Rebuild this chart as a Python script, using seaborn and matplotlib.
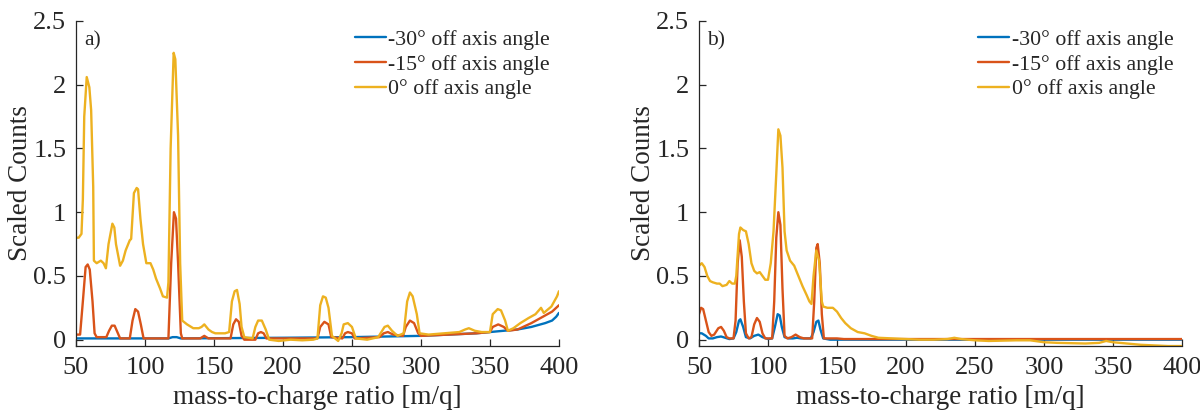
import numpy as np
import pandas as pd
import matplotlib
matplotlib.use("Agg")
import matplotlib.pyplot as plt
import seaborn as sns

# ---------------- data: panel a ----------------
a_mz_0 = [50, 52, 54, 55, 56, 57.8, 59.7, 61, 62.5, 63, 65, 68, 70, 71.7, 73.6, 76.4, 77.8, 79, 82,
          84, 86, 89, 90, 92, 94, 95, 96.7, 98.6, 101, 104, 106, 108, 111, 113, 116, 117, 118.6,
          120.8, 122, 124, 125.5, 127, 130.5, 135, 139, 141, 143, 146, 148.6, 151, 158, 161, 163,
          165, 166.7, 168.6, 170, 172, 178, 180, 182, 184.7, 187.5, 190, 197, 205.5, 214, 222, 225,
          227, 229, 231, 233, 235.5, 240, 242.5, 244, 247, 250, 252.8, 261, 269, 273.6, 276, 279,
          283, 287.5, 290, 292, 294, 297, 299, 305.5, 316.7, 327.8, 332, 334.7, 339, 344, 350, 352,
          355.6, 358, 361, 363, 367, 372, 378, 383, 387, 389, 394.5, 398.6, 400]
a_val_0 = [0.80, 0.80, 0.83, 1.10, 1.75, 2.06, 1.98, 1.80, 1.20, 0.62, 0.60, 0.62, 0.60, 0.56, 0.75,
           0.91, 0.88, 0.75, 0.58, 0.62, 0.70, 0.78, 0.79, 1.15, 1.19, 1.18, 0.95, 0.75, 0.60, 0.60,
           0.55, 0.48, 0.40, 0.34, 0.33, 0.45, 1.50, 2.25, 2.20, 1.60, 0.60, 0.15, 0.12, 0.09,
           0.09, 0.10, 0.12, 0.08, 0.06, 0.05, 0.05, 0.06, 0.30, 0.38, 0.39, 0.28, 0.10, 0.02, 0.01,
           0.10, 0.15, 0.15, 0.08, 0.00, -0.01, 0.00, -0.005, 0.00, 0.01, 0.27, 0.34, 0.33, 0.25,
           0.03, -0.01, 0.05, 0.12, 0.13, 0.10, 0.01, 0.00, 0.02, 0.10, 0.11, 0.07, 0.03, 0.05, 0.30,
           0.37, 0.34, 0.20, 0.05, 0.04, 0.05, 0.06, 0.08, 0.09, 0.07, 0.06, 0.06, 0.20, 0.24, 0.23,
           0.15, 0.07, 0.09, 0.13, 0.17, 0.20, 0.25, 0.21, 0.26, 0.34, 0.38]

a_mz_15 = [50, 53, 55, 57, 58.5, 60, 62, 63.5, 65, 72, 74, 76, 78, 80, 82, 89, 91, 93, 95, 97, 99,
           117, 119, 121, 122.5, 124, 126, 127, 140, 143, 146, 162, 164, 166, 168, 170, 172, 180,
           182, 184, 186, 188, 225, 227, 230, 233, 235, 243, 245, 247, 250, 252, 270, 273, 276,
           280, 287, 289, 292, 295, 298, 300, 320, 340, 350, 352, 356, 360, 363, 370, 380, 390,
           395, 400]
a_val_15 = [0.04, 0.04, 0.30, 0.57, 0.59, 0.55, 0.30, 0.05, 0.02, 0.02, 0.07, 0.11, 0.11, 0.06,
            0.01, 0.01, 0.15, 0.24, 0.22, 0.12, 0.01, 0.01, 0.60, 1.00, 0.95, 0.60, 0.05, 0.01,
            0.01, 0.03, 0.01, 0.01, 0.12, 0.16, 0.14, 0.03, 0.00, 0.00, 0.05, 0.06, 0.05, 0.01,
            0.01, 0.10, 0.14, 0.12, 0.02, 0.01, 0.05, 0.06, 0.05, 0.01, 0.02, 0.05, 0.06, 0.04,
            0.03, 0.10, 0.15, 0.13, 0.05, 0.03, 0.04, 0.05, 0.06, 0.10, 0.12, 0.10, 0.07, 0.08,
            0.13, 0.19, 0.22, 0.27]

a_mz_30 = [50, 100, 117, 120, 123, 126, 200, 250, 300, 320, 340, 350, 360, 370, 380, 390, 395,
           398, 400]
a_val_30 = [0.01, 0.01, 0.01, 0.02, 0.02, 0.01, 0.015, 0.02, 0.03, 0.04, 0.05, 0.06, 0.07, 0.08,
            0.10, 0.13, 0.15, 0.18, 0.21]

# ---------------- data: panel b ----------------
b_mz_0 = [50, 52, 54, 56, 58, 60, 63, 65, 67, 70, 72, 74, 76, 77, 79, 80, 82, 84, 86, 88, 90, 92,
          94, 96, 98, 100, 102, 104, 106, 107.5, 109, 110.5, 112, 113.5, 116, 119, 122, 125, 128,
          130, 131.5, 133, 135, 137, 139, 140, 143, 147, 150, 153, 156, 160, 165, 170, 175, 180,
          190, 200, 210, 220, 230, 235, 240, 250, 260, 280, 290, 300, 310, 330, 340, 345, 350,
          360, 370, 380, 390, 400]
b_val_0 = [0.58, 0.60, 0.57, 0.50, 0.46, 0.45, 0.44, 0.44, 0.42, 0.43, 0.46, 0.44, 0.44, 0.50,
           0.83, 0.88, 0.86, 0.85, 0.75, 0.60, 0.54, 0.52, 0.53, 0.50, 0.47, 0.47, 0.60, 0.85,
           1.30, 1.65, 1.60, 1.35, 0.85, 0.70, 0.62, 0.58, 0.50, 0.42, 0.35, 0.30, 0.28, 0.50,
           0.70, 0.62, 0.30, 0.26, 0.25, 0.25, 0.22, 0.17, 0.13, 0.09, 0.06, 0.05, 0.03, 0.015,
           0.01, 0.005, 0.00, 0.00, 0.005, 0.015, 0.005, -0.005, -0.01, -0.005, -0.005, -0.02,
           -0.025, -0.03, -0.025, -0.01, -0.02, -0.03, -0.04, -0.045, -0.05, -0.05]

b_mz_15 = [50, 51.5, 53, 55, 57, 59, 61, 64, 66, 68, 70, 72, 75, 76.5, 78, 79.5, 81, 82.5, 84, 86,
           88, 90, 92, 94, 96, 98, 103, 104.5, 106, 107.5, 109, 110.5, 112, 114, 117, 120, 123,
           126, 132, 133.5, 135, 136, 137.5, 139, 140.5, 150, 155, 400]
b_val_15 = [0.20, 0.25, 0.24, 0.15, 0.06, 0.03, 0.04, 0.09, 0.10, 0.07, 0.02, 0.01, 0.01, 0.15,
            0.60, 0.78, 0.65, 0.30, 0.05, 0.01, 0.02, 0.12, 0.17, 0.14, 0.05, 0.01, 0.01, 0.30,
            0.80, 1.00, 0.90, 0.40, 0.03, 0.01, 0.02, 0.04, 0.02, 0.01, 0.01, 0.30, 0.72, 0.75,
            0.60, 0.20, 0.01, 0.01, 0.005, 0.005]

b_mz_30 = [50, 52, 55, 57, 60, 63, 66, 69, 72, 75, 77, 79, 80, 82, 84, 87, 90, 93, 96, 100, 103,
           105, 107, 108.5, 110, 112, 115, 118, 121, 124, 131, 133, 135, 136.5, 138, 140, 145, 400]
b_val_30 = [0.05, 0.05, 0.03, 0.01, 0.01, 0.02, 0.025, 0.015, 0.005, 0.01, 0.06, 0.15, 0.16,
            0.10, 0.02, 0.01, 0.03, 0.04, 0.02, 0.005, 0.01, 0.10, 0.20, 0.19, 0.10, 0.02, 0.01,
            0.01, 0.015, 0.01, 0.01, 0.06, 0.14, 0.15, 0.08, 0.01, 0.00, 0.00]

labels = ["-30° off axis angle", "-15° off axis angle", "0° off axis angle"]
colors = ["#0072BD", "#D95319", "#EDB120"]
x_ticks = [50, 100, 150, 200, 250, 300, 350, 400]
y_ticks = [0, 0.5, 1, 1.5, 2, 2.5]
y_ticklabels = ["0", "0.5", "1", "1.5", "2", "2.5"]

panels = [
    ("a)", [(a_mz_30, a_val_30), (a_mz_15, a_val_15), (a_mz_0, a_val_0)]),
    ("b)", [(b_mz_30, b_val_30), (b_mz_15, b_val_15), (b_mz_0, b_val_0)]),
]

# ---------------- styling ----------------
sns.set_style("ticks")
plt.rcParams["font.family"] = ["Liberation Serif", "DejaVu Serif"]
ink = "#262626"

fig = plt.figure(figsize=(12, 4.11), dpi=100)
axes_pos = [[0.0633, 0.158, 0.4025, 0.791], [0.5825, 0.158, 0.4025, 0.791]]

for pos, (tag, series) in zip(axes_pos, panels):
    ax = fig.add_axes(pos)
    for (mz, val), lab, col in zip(series, labels, colors):
        df = pd.DataFrame({"mz": mz, "counts": val})
        sns.lineplot(data=df, x="mz", y="counts", ax=ax, color=col, lw=1.7,
                     label=lab, estimator=None, sort=False)
    ax.set_xlim(50, 400)
    ax.set_ylim(-0.05, 2.5)
    ax.set_xticks(x_ticks)
    ax.set_yticks(y_ticks)
    ax.set_yticklabels(y_ticklabels)
    ax.tick_params(direction="in", length=5, width=0.9, colors=ink, labelsize=19)
    ax.tick_params(axis="x", pad=8)
    ax.tick_params(axis="y", pad=7)
    for side in ("top", "right"):
        ax.spines[side].set_visible(False)
    for side in ("left", "bottom"):
        ax.spines[side].set_color(ink)
        ax.spines[side].set_linewidth(0.9)
    ax.set_xlabel("mass-to-charge ratio [m/q]", fontsize=19.5, color=ink, va="center")
    ax.xaxis.set_label_coords(0.5, -0.157)
    ax.set_ylabel("Scaled Counts", fontsize=19.5, color=ink, va="center")
    ax.yaxis.set_label_coords(-0.114, 0.5)
    ax.text(0.017, 0.94, tag, transform=ax.transAxes, fontsize=15.5, color=ink,
            ha="left", va="center")
    leg = ax.legend(loc="upper right", bbox_to_anchor=(1.0, 1.0), frameon=False,
                    fontsize=15.75, handlelength=1.45, handletextpad=0.1,
                    labelspacing=0.2, borderaxespad=0.0)
    for t in leg.get_texts():
        t.set_color(ink)

fig.savefig("out.png", dpi=100)
